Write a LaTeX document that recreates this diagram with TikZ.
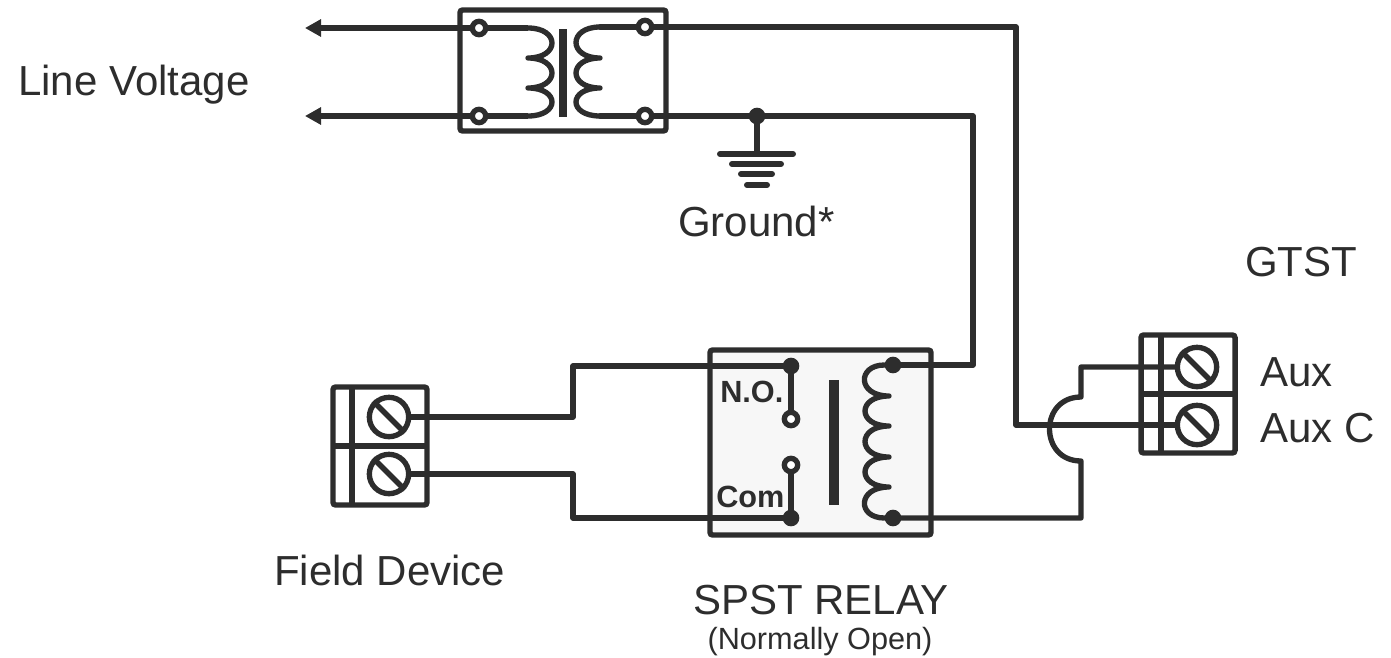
\documentclass[tikz,border=0pt]{standalone}
\usepackage{fontspec}
\setmainfont{Liberation Sans}
\usetikzlibrary{arrows.meta}
\definecolor{ink}{HTML}{2D2D2D}
\tikzset{
  wire/.style={draw=ink,line width=4pt,line join=round,line cap=round},
  box/.style={draw=ink,line width=4.1pt,rounded corners=2pt},
  openpin/.style={circle,draw=ink,fill=white,line width=4pt,inner sep=0pt,minimum size=10pt},
  dot/.style={circle,fill=ink,inner sep=0pt,minimum size=12.5pt},
  screw/.style={circle,draw=ink,fill=white,line width=4pt,inner sep=0pt,minimum size=29.5pt},
  core/.style={fill=ink,draw=none},
  big/.style={inner sep=0pt,text=ink,font=\fontsize{31.5}{36}\selectfont},
  small/.style={inner sep=0pt,text=ink,font=\fontsize{23}{27}\selectfont},
  smallb/.style={inner sep=0pt,text=ink,font=\fontsize{23}{27}\selectfont\bfseries},
  pointer/.style={wire,-{Triangle[length=12pt,width=12.5pt]},line cap=butt},
  gbar/.style={wire,line width=4.5pt},
  divider/.style={wire,line cap=butt},
}
\begin{document}
\begin{tikzpicture}[x=0.75pt,y=-0.75pt]
\useasboundingbox (0,0) rectangle (1391,657);
% relay body
\path[box,fill=black!3] (710,350) rectangle (931,535);
% wire route points
\coordinate (arrowA) at (305,28);
\coordinate (arrowB) at (305,116);
\coordinate (corner1) at (1016,27);
\coordinate (corner2) at (1016,425);
\coordinate (corner3) at (973,116);
\coordinate (corner4) at (973,365);
\coordinate (gndtop) at (757,116);
\coordinate (gnd1) at (757,154);
\coordinate (fd1) at (573,366);
\coordinate (fd2) at (573,417);
\coordinate (fd3) at (573,518);
\coordinate (fd4) at (573,474);
\coordinate (c1) at (1081,518);
\coordinate (c2) at (1081,461);
\coordinate (c3) at (1081,397);
\coordinate (c4) at (1081,367);
% transformer box and terminals
\path[box] (460,10) rectangle (666,131);
\node[screw] (fieldA) at (389,417) {};
\node[screw] (fieldB) at (389,474) {};
\node[screw] (auxA) at (1197,367) {};
\node[screw] (auxB) at (1197,425) {};
\node[dot] (no) at (791,366) {};
\node[dot] (com) at (791,518) {};
\node[dot] (coilA) at (893,365) {};
\node[dot] (coilB) at (893,518) {};
% wires
\draw[pointer] (528,28) -- (arrowA);
\draw[pointer] (528,116) -- (arrowB);
\draw[wire] (600,27) -- (corner1) -- (corner2) -- (auxB);
\draw[wire] (600,116) -- (corner3) -- (corner4) -- (coilA);
\draw[wire] (gndtop) -- (gnd1);
\draw[wire] (no) -- (fd1) -- (fd2) -- (fieldA);
\draw[wire] (com) -- (fd3) -- (fd4) -- (fieldB);
\draw[wire] (coilB) -- (c1) -- (c2) .. controls (1039,461) and (1039,397) .. (c3) -- (c4) -- (auxA);
% transformer
\draw[wire] (528,28) .. controls (560,28) and (560,58) .. (528,58)
  .. controls (560,58) and (560,88) .. (528,88)
  .. controls (560,88) and (560,116) .. (528,116);
\draw[wire] (600,27) .. controls (568,27) and (568,58) .. (600,58)
  .. controls (568,58) and (568,88) .. (600,88)
  .. controls (568,88) and (568,116) .. (600,116);
\path[core] (559,29) rectangle (567,117);
\node[openpin] (t1) at (479,28) {};
\node[openpin] (t2) at (479,116) {};
\node[openpin] (t3) at (645,27) {};
\node[openpin] (t4) at (645,116) {};
% ground
\node[dot] (gnd) at (gndtop) {};
\draw[gbar] (720,154) -- (793,154);
\draw[gbar] (732,164) -- (781,164);
\draw[gbar] (741,174) -- (772,174);
\draw[gbar] (747,185) -- (767,185);
% relay contents
\node[openpin] (nopin) at (791,419) {};
\node[openpin] (compin) at (791,465) {};
\draw[wire] (no) -- (nopin);
\draw[wire] (com) -- (compin);
\path[core] (829,380) rectangle (839,505);
\draw[wire] (coilA) .. controls (857,365) and (857,396) .. (889,396)
  .. controls (857,396) and (857,426) .. (889,426)
  .. controls (857,426) and (857,457) .. (889,457)
  .. controls (857,457) and (857,487) .. (889,487)
  .. controls (857,487) and (857,518) .. (coilB);
\node[smallb,anchor=west] (nolabel) at (720,392) {N.O.};
\node[smallb,anchor=west] (comlabel) at (716,497) {Com};
% terminal blocks
\path[box] (333,387) rectangle (427,505);
\draw[divider] (333,446) -- (427,446);
\draw[divider] (352,387) -- (352,505);
\path[box] (1141,335) rectangle (1235,453);
\draw[divider] (1141,394) -- (1235,394);
\draw[divider] (1161,335) -- (1161,453);
\foreach \s in {fieldA,fieldB,auxA,auxB}{
  \draw[divider] (\s.north west) -- (\s.south east);
}
% labels
\node[big,anchor=west] (lv) at (18,85) {Line Voltage};
\node[big,anchor=west] (gl) at (678,221) {Ground*};
\node[big,anchor=center] (gt) at (1301,262) {GTST};
\node[big,anchor=west] (ax) at (1260,372) {Aux};
\node[big,anchor=west] (axc) at (1260,428) {Aux C};
\node[big,anchor=west] (fd) at (274,570) {Field Device};
\node[big,anchor=center] (sr) at (821,600) {SPST RELAY};
\node[small,anchor=center] (no2) at (820,642) {(Normally Open)};
\end{tikzpicture}
\end{document}
